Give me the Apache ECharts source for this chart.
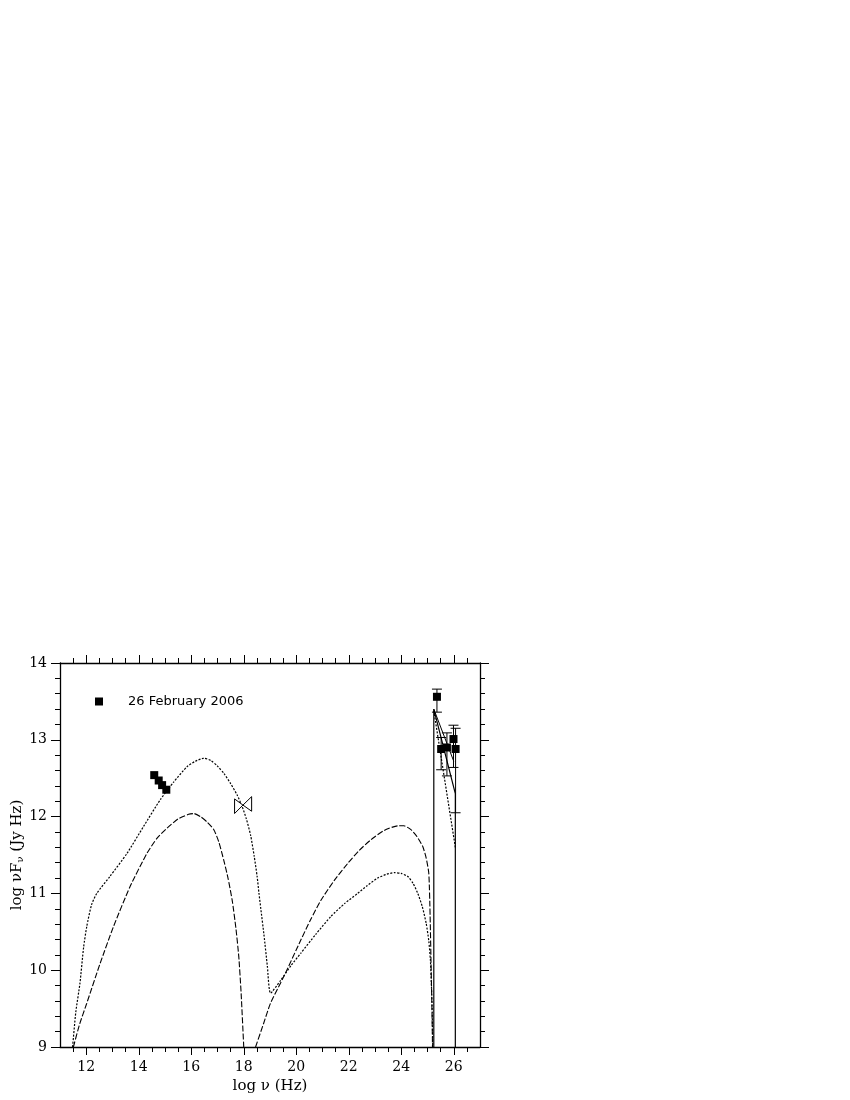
<!DOCTYPE html>
<html>
<head>
<meta charset="utf-8">
<script src="https://cdn.jsdelivr.net/npm/echarts@6/dist/echarts.min.js"></script>
<style>
  html, body { margin: 0; padding: 0; background: #fff; }
  #sed { width: 850px; height: 1100px; }
</style>
</head>
<body>
<div id="sed"></div>
<script>
// 刻度标签
var xTickLabels = [12, 14, 16, 18, 20, 22, 24, 26];
var yTickLabels = [9, 10, 11, 12, 13, 14];

// 观测点 (26 February 2006)
var optX = [14.59, 14.76, 14.89, 15.05];
var optY = [12.54, 12.47, 12.41, 12.35];

var vheX = [25.36, 25.52, 25.74, 25.99, 26.07];
var vheY = [13.56, 12.88, 12.90, 13.01, 12.88];
var vheLow = [13.36, 12.61, 12.53, 12.64, 12.05];
var vheHigh = [13.66, 13.03, 13.09, 13.19, 13.15];

// X-ray bowtie
var bowX = [17.65, 17.97, 18.30, 18.30, 17.97, 17.65];
var bowY = [12.23, 12.15, 12.26, 12.07, 12.15, 12.04];

// 模型曲线 (dotted: synchrotron + IC)
var dotX = [11.48, 11.6, 11.76, 11.9, 12.02, 12.2, 12.4, 12.9, 13.55, 14.18, 14.82, 15.33, 15.84, 16.15, 16.48, 16.75, 16.99, 17.25, 17.5, 17.75, 17.94, 18.1, 18.26, 18.4, 18.51, 18.58, 18.65, 18.77, 18.9, 19.02,
            19.41, 19.8, 20.17, 20.75, 21.32, 21.85, 22.34, 22.7, 23.1, 23.45, 23.74, 24.0, 24.25, 24.45, 24.63, 24.8, 24.95, 25.05, 25.11, 25.15, 25.18, 25.2];
var dotY = [9.0, 9.45, 9.83, 10.3, 10.57, 10.85, 11.0, 11.22, 11.52, 11.87, 12.22, 12.45, 12.65, 12.72, 12.76, 12.73, 12.66, 12.56, 12.43, 12.28, 12.13, 11.97, 11.76, 11.48, 11.22, 11.0, 10.8, 10.46, 10.05, 9.70,
            9.87, 10.06, 10.22, 10.47, 10.70, 10.87, 11.0, 11.1, 11.2, 11.25, 11.27, 11.26, 11.22, 11.13, 11.0, 10.83, 10.61, 10.38, 10.13, 9.8, 9.45, 9.0];

// 模型曲线 (dashed: synchrotron)
var dashSynX = [11.51, 11.75, 12.02, 12.53, 13.04, 13.67, 14.31, 14.7, 15.08, 15.5, 15.9, 16.1, 16.35, 16.6, 16.86, 17.05, 17.24, 17.4, 17.56, 17.7, 17.81, 17.9, 18.0];
var dashSynY = [9.0, 9.3, 9.57, 10.09, 10.57, 11.09, 11.52, 11.72, 11.85, 11.97, 12.03, 12.04, 12.0, 11.93, 11.83, 11.67, 11.43, 11.2, 10.91, 10.55, 10.18, 9.7, 9.0];

// 模型曲线 (dashed: IC)
var dashIcX = [18.45, 18.75, 19.02, 19.53, 20.17, 20.55, 20.94, 21.45, 21.96, 22.4, 22.85, 23.35, 23.87, 24.1, 24.37, 24.6, 24.82, 24.95, 25.05, 25.1, 25.14, 25.17, 25.19];
var dashIcY = [9.0, 9.3, 9.57, 9.92, 10.39, 10.66, 10.91, 11.17, 11.39, 11.56, 11.70, 11.82, 11.88, 11.88, 11.83, 11.74, 11.61, 11.46, 11.26, 10.7, 10.0, 9.5, 9.0];

// VHE 段模型
var vheSolidX = [25.24, 25.24, 26.06, 26.06];
var vheSolidY = [9.0, 13.40, 12.30, 9.0];
var vheSolid2X = [25.24, 26.0];
var vheSolid2Y = [13.40, 12.72];
var vheDotX = [25.24, 26.06];
var vheDotY = [13.38, 11.60];

function pairs(xs, ys) {
    var list = [];
    for (var i = 0; i < xs.length; i++) {
        list.push([xs[i], ys[i]]);
    }
    return list;
}

var minorX = [];
for (var v = 11.5; v < 27; v += 0.5) {
    if (v % 2 !== 0) minorX.push(v);
}

var serif = 'DejaVu Serif';
var sans = 'DejaVu Sans';
var axisLine = { show: true, lineStyle: { color: '#000', width: 1.3 } };

function lineSeries(xs, ys, type, width, smooth) {
    return {
        type: 'line',
        data: pairs(xs, ys),
        showSymbol: false,
        symbol: 'none',
        silent: true,
        smooth: smooth,
        lineStyle: { color: '#000', width: width, type: type },
        z: 2
    };
}

var sedChart = echarts.init(document.getElementById('sed'));
sedChart.setOption({
    animation: false,
    backgroundColor: '#fff',
    grid: { left: 60, top: 663, width: 420, height: 384 },
    legend: {
        left: 90,
        top: 690,
        data: ['26 February 2006'],
        icon: 'rect',
        itemWidth: 8,
        itemHeight: 8,
        textStyle: { fontFamily: sans, fontSize: 13, color: '#000', padding: [0, 0, 0, 20] }
    },
    xAxis: [
        {   // 下轴 主刻度
            type: 'value', min: 11, max: 27, position: 'bottom',
            name: 'log ν (Hz)', nameLocation: 'middle', nameGap: 32,
            nameTextStyle: { fontFamily: serif, fontSize: 15, color: '#000' },
            axisLine: axisLine,
            axisTick: { show: true, inside: false, length: 8, customValues: xTickLabels, lineStyle: { color: '#000', width: 1 } },
            axisLabel: { customValues: xTickLabels, margin: 13, fontFamily: serif, fontSize: 14, color: '#000' },
            splitLine: { show: false }
        },
        {   // 上轴 主刻度
            type: 'value', min: 11, max: 27, position: 'top',
            axisLine: axisLine,
            axisTick: { show: true, inside: false, length: 8, customValues: xTickLabels, lineStyle: { color: '#000', width: 1 } },
            axisLabel: { show: false },
            splitLine: { show: false }
        },
        {   // 下轴 次刻度
            type: 'value', min: 11, max: 27, position: 'bottom',
            axisLine: { show: false },
            axisTick: { show: true, inside: false, length: 5, customValues: minorX, lineStyle: { color: '#000', width: 1 } },
            axisLabel: { show: false },
            splitLine: { show: false }
        },
        {   // 上轴 次刻度
            type: 'value', min: 11, max: 27, position: 'top',
            axisLine: { show: false },
            axisTick: { show: true, inside: false, length: 5, customValues: minorX, lineStyle: { color: '#000', width: 1 } },
            axisLabel: { show: false },
            splitLine: { show: false }
        }
    ],
    yAxis: [
        {
            type: 'value', min: 9, max: 14, interval: 1, position: 'left',
            name: 'log νF{s|ν} (Jy Hz)', nameLocation: 'middle', nameGap: 34,
            nameTextStyle: {
                fontFamily: serif, fontSize: 15, color: '#000',
                rich: { s: { fontFamily: serif, fontSize: 10, color: '#000', verticalAlign: 'bottom', padding: [6, 0, 0, 0] } }
            },
            axisLine: axisLine,
            axisTick: { show: true, inside: false, length: 9, lineStyle: { color: '#000', width: 1 } },
            minorTick: { show: true, splitNumber: 5, length: 5, lineStyle: { color: '#000', width: 1 } },
            axisLabel: { margin: 13, fontFamily: serif, fontSize: 14, color: '#000' },
            splitLine: { show: false },
            minorSplitLine: { show: false }
        },
        {
            type: 'value', min: 9, max: 14, interval: 1, position: 'right',
            axisLine: axisLine,
            axisTick: { show: true, inside: false, length: 9, lineStyle: { color: '#000', width: 1 } },
            minorTick: { show: true, splitNumber: 5, length: 5, lineStyle: { color: '#000', width: 1 } },
            axisLabel: { show: false },
            splitLine: { show: false },
            minorSplitLine: { show: false }
        }
    ],
    series: [
        lineSeries(dotX, dotY, [2, 1.5], 1.2, 0.2),
        lineSeries(dashSynX, dashSynY, [6, 2], 1.1, 0.2),
        lineSeries(dashIcX, dashIcY, [6, 2], 1.1, 0.2),
        lineSeries(vheSolidX, vheSolidY, 'solid', 1.2, false),
        lineSeries(vheSolid2X, vheSolid2Y, 'solid', 1, false),
        lineSeries(vheDotX, vheDotY, [2, 1.5], 1.2, false),
        {   // bowtie
            type: 'custom',
            silent: true,
            z: 4,
            data: [[bowX[1], bowY[1]]],
            encode: { x: 0, y: 1 },
            renderItem: function (params, api) {
                var pts = [];
                for (var i = 0; i < bowX.length; i++) {
                    pts.push(api.coord([bowX[i], bowY[i]]));
                }
                return {
                    type: 'polygon',
                    shape: { points: pts },
                    style: { fill: '#fff', stroke: '#000', lineWidth: 1 }
                };
            }
        },
        {   // 误差棒
            type: 'custom',
            silent: true,
            z: 5,
            data: function () {
                var list = [];
                for (var i = 0; i < vheX.length; i++) {
                    list.push([vheX[i], vheY[i], vheLow[i], vheHigh[i]]);
                }
                return list;
            }(),
            encode: { x: 0, y: 1 },
            renderItem: function (params, api) {
                var x = api.value(0);
                var top = api.coord([x, api.value(3)]);
                var bot = api.coord([x, api.value(2)]);
                var st = { stroke: '#000', lineWidth: 1 };
                return {
                    type: 'group',
                    children: [
                        { type: 'line', shape: { x1: top[0], y1: top[1], x2: bot[0], y2: bot[1] }, style: st },
                        { type: 'line', shape: { x1: top[0] - 5, y1: top[1], x2: top[0] + 5, y2: top[1] }, style: st },
                        { type: 'line', shape: { x1: bot[0] - 5, y1: bot[1], x2: bot[0] + 5, y2: bot[1] }, style: st }
                    ]
                };
            }
        },
        {
            name: '26 February 2006',
            type: 'scatter',
            symbol: 'rect',
            symbolSize: 8,
            itemStyle: { color: '#000', opacity: 1 },
            data: pairs(optX, optY),
            z: 6
        },
        {
            name: '26 February 2006',
            type: 'scatter',
            symbol: 'rect',
            symbolSize: 8,
            itemStyle: { color: '#000', opacity: 1 },
            data: pairs(vheX, vheY),
            z: 6
        }
    ]
});
</script>
</body>
</html>
